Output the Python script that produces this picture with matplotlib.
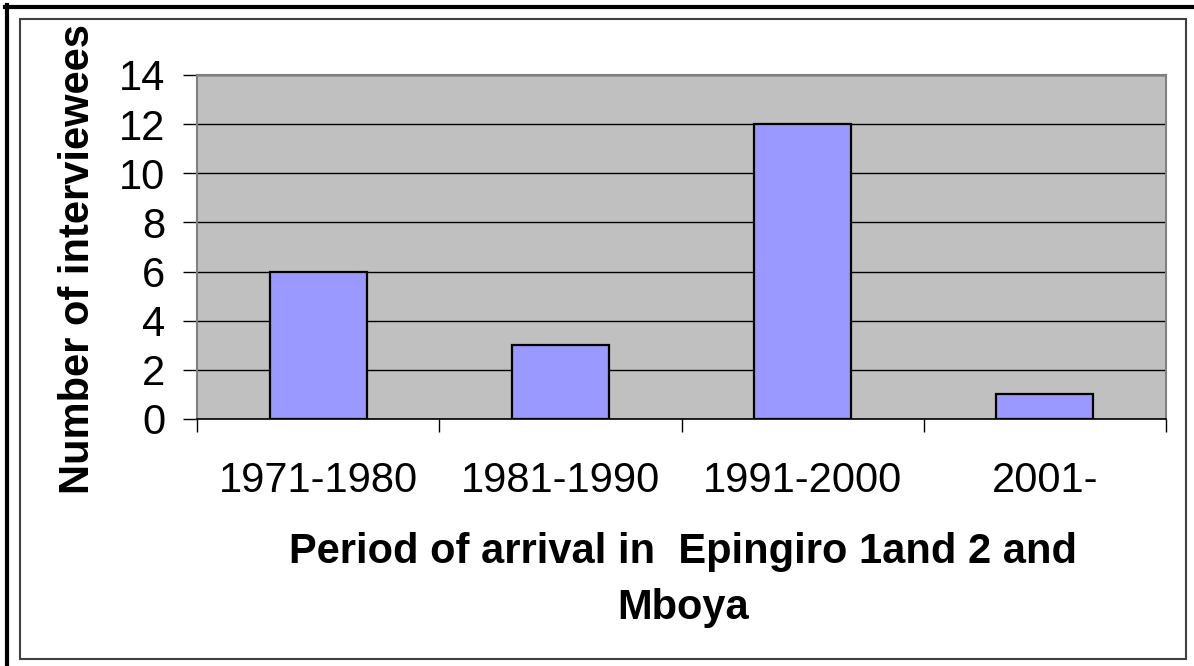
import matplotlib
matplotlib.use("Agg")
import matplotlib.pyplot as plt
from matplotlib.patches import Rectangle
from matplotlib.lines import Line2D

# data
periods = ["1971-1980", "1981-1990", "1991-2000", "2001-"]
interviewees = [6, 3, 12, 1]
y_ticks = [0, 2, 4, 6, 8, 10, 12, 14]

plt.rcParams['font.family'] = ['Liberation Sans', 'DejaVu Sans']

W, H = 1194, 666
fig = plt.figure(figsize=(W / 100, H / 100), dpi=100)
fig.patch.set_facecolor('white')

ax = fig.add_axes([197 / W, 1 - 419 / H, (1166 - 197) / W, (419 - 75) / H])
ax.set_facecolor('#C0C0C0')

x = list(range(len(periods)))
ax.bar(x, interviewees, width=0.4, color='#9999FF', edgecolor='black', linewidth=1.6, zorder=3)

ax.set_xlim(-0.5, len(periods) - 0.5)
ax.set_ylim(0, 14)
ax.set_yticks(y_ticks)
ax.yaxis.grid(True, color='black', linewidth=1, zorder=1)
ax.set_axisbelow(True)

# category labels, tick marks between categories
ax.set_xticks(x)
ax.set_xticklabels(periods, fontsize=30)
ax.tick_params(axis='x', which='major', length=0, pad=30)
ax.set_xticks([i - 0.5 for i in range(len(periods) + 1)], minor=True)
ax.tick_params(axis='x', which='minor', length=9, width=1, color='black')
ax.tick_params(axis='y', labelsize=30, length=10, width=1, color='black', pad=13)

for s in ['top', 'right', 'left']:
    ax.spines[s].set_color('#808080')
    ax.spines[s].set_linewidth(1.5)
ax.spines['bottom'].set_color('black')
ax.spines['bottom'].set_linewidth(1.2)

ax.set_ylabel("Number of interviewees", fontsize=30, fontweight='bold')
ax.yaxis.set_label_coords(-99 / (1166 - 197), (419 - 259) / (419 - 75))
fig.text(683 / W, 1 - 580 / H, "Period of arrival in  Epingiro 1and 2 and\nMboya",
         ha='center', va='center', fontsize=30, fontweight='bold', linespacing=1.5)

# outer frames
fig.add_artist(Rectangle((20 / W, 1 - 659 / H), (1186 - 20) / W, (659 - 19) / H,
                         transform=fig.transFigure, fill=False, edgecolor='#404040', linewidth=1.5))
fig.add_artist(Line2D([6.5 / W, 6.5 / W], [0, 1 - 5 / H], transform=fig.transFigure, color='black', linewidth=3))
fig.add_artist(Line2D([5 / W, 1], [1 - 6.5 / H, 1 - 6.5 / H], transform=fig.transFigure, color='black', linewidth=3))

fig.savefig("out.png", dpi=100)
